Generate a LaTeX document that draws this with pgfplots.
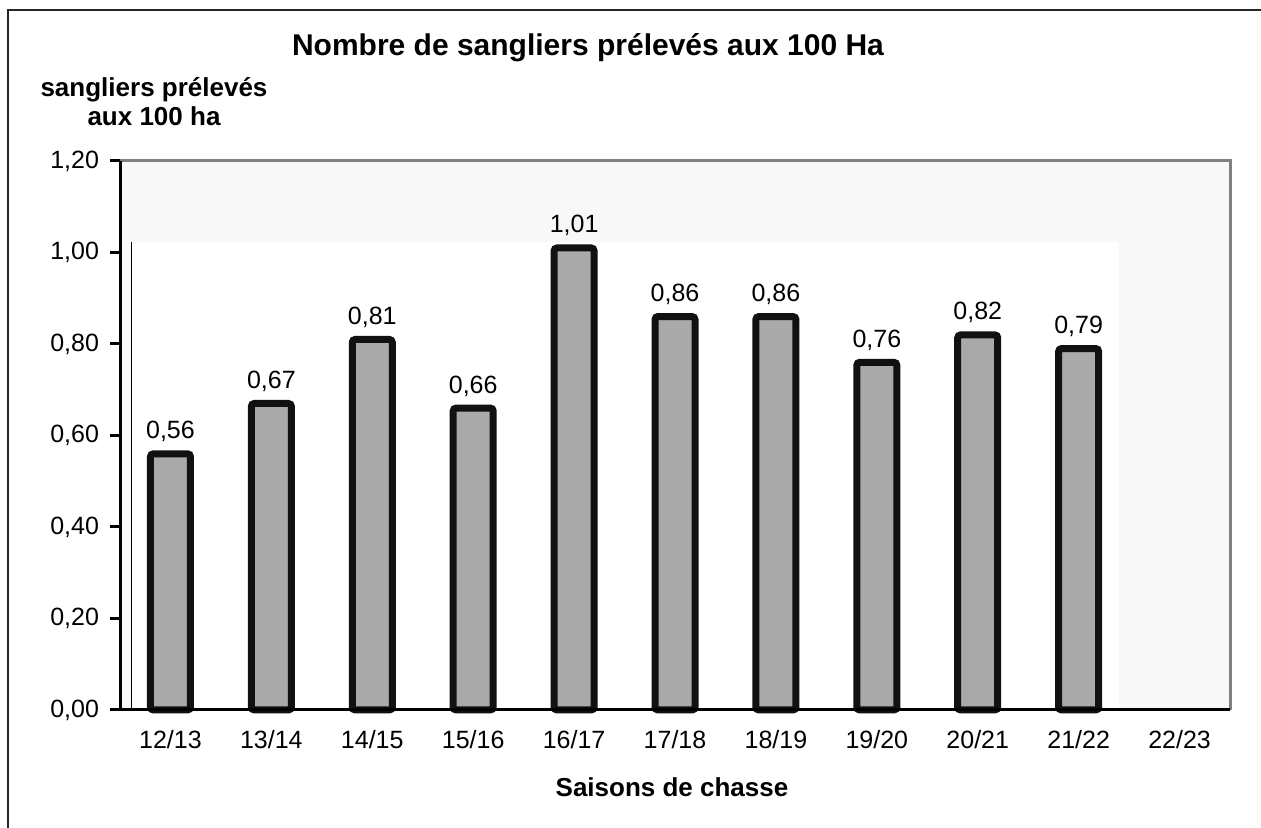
\documentclass[border=0pt]{standalone}
\usepackage{pgfplots}
\pgfplotsset{compat=1.18}
\usepackage{fontspec}
\setmainfont{Liberation Sans}
\definecolor{bgc}{RGB}{248,248,248}
\definecolor{barfill}{RGB}{169,169,169}
\definecolor{barline}{RGB}{17,17,17}
\definecolor{frameg}{RGB}{128,128,128}
\pgfkeys{/pgf/number format/.cd, fixed, fixed zerofill, precision=2, use comma, assume math mode=true}
\begin{document}
\begin{tikzpicture}
\useasboundingbox (0,0) rectangle (630.5pt,414pt);
% outer frame (partially visible)
\draw[line width=1pt, black!85] (4pt,0pt) -- (4pt,409pt) -- (630.5pt,409pt);
\begin{axis}[
  at={(60pt,59pt)}, anchor=south west,
  width=555pt, height=274.5pt, scale only axis,
  xmin=-0.5, xmax=10.5, ymin=0, ymax=1.2,
  axis line style={draw=none},
  axis background/.style={fill=bgc},
  xtick={0,...,10},
  xticklabels={12/13,13/14,14/15,15/16,16/17,17/18,18/19,19/20,20/21,21/22,22/23},
  minor xtick={-0.5,0.5,...,10.5},
  xtick style={draw=none},
  minor x tick style={black, line width=1.5pt},
  minor tick length=4pt,
  ytick={0,0.2,...,1.2},
  ytick style={black, line width=1.5pt},
  major tick length=5pt,
  tick align=outside,
  xtick pos=bottom, ytick pos=left,
  yticklabel style={/pgf/number format/fixed, /pgf/number format/fixed zerofill, /pgf/number format/precision=2, /pgf/number format/use comma, /pgf/number format/assume math mode=true},
  ticklabel style={font=\fontsize{12.5}{14}\selectfont},
  xticklabel style={yshift=-1.5pt},
  yticklabel style={xshift=-2pt},
  ybar, bar width=20pt,
  nodes near coords,
  every node near coord/.append style={font=\fontsize{12.5}{14}\selectfont, inner sep=0pt, anchor=base, yshift=7.5pt, black},
  clip=false,
]
\fill[white] (axis cs:-0.387,0) rectangle (axis cs:9.395,1.023);
\draw[black, line width=0.5pt] (axis cs:-0.387,0) -- (axis cs:-0.387,1.023);
\addplot[fill=barfill, draw=barline, line width=3.5pt, rounded corners=1.5pt] coordinates {
(0,0.56) (1,0.67) (2,0.81) (3,0.66) (4,1.01) (5,0.86) (6,0.86) (7,0.76) (8,0.82) (9,0.79)
};
\draw[frameg, line width=1.5pt] (rel axis cs:0,1) -- (rel axis cs:1,1) -- (rel axis cs:1,0);
\draw[black, line width=1.5pt] (rel axis cs:0,1) -- (rel axis cs:0,0) -- (rel axis cs:1,0);
\end{axis}
\node[font=\fontsize{15}{17}\selectfont\bfseries] at (294pt,390pt) {Nombre de sangliers prélevés aux 100 Ha};
\node[font=\fontsize{13}{14.5}\selectfont\bfseries, align=center] at (77pt,363pt) {sangliers prélevés\\aux 100 ha};
\node[font=\fontsize{13}{15}\selectfont\bfseries] at (336pt,20.5pt) {Saisons de chasse};
\end{tikzpicture}
\end{document}
